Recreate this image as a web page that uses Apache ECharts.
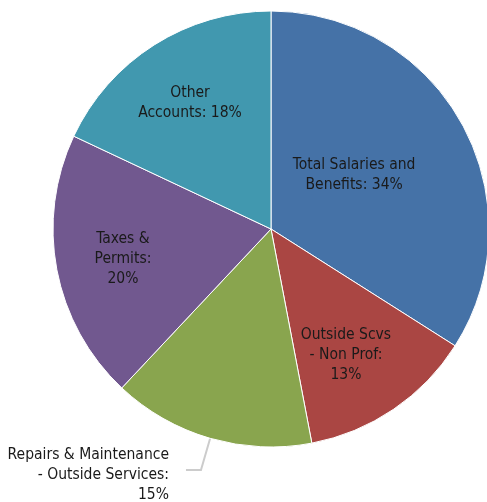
<!DOCTYPE html>
<html><head><meta charset="utf-8">
<script src="https://cdn.jsdelivr.net/npm/echarts@6/dist/echarts.min.js"></script>
<style>html,body{margin:0;padding:0;background:#fff}#c{width:487px;height:502px}</style>
</head><body><div id="c"></div>
<script>
const categories = ['Total Salaries and\nBenefits', 'Outside Scvs\n- Non Prof', 'Repairs & Maintenance\n- Outside Services', 'Taxes &\nPermits', 'Other\nAccounts'];
const values = [34, 13, 15, 20, 18];
const colors = ['#4572A7', '#AA4643', '#89A54E', '#71588F', '#4198AF'];
const pctSep = [' ', '\n', '\n', '\n', ' '];
const labelShift = [[-15, 0], [12, 33], [0, 5], [-38, 9], [-21, -31]];

const chart = echarts.init(document.getElementById('c'), null, {renderer: 'canvas'});
chart.setOption({
  animation: false,
  series: [{
    type: 'pie',
    center: [271, 229],
    radius: 218,
    startAngle: 90,
    clockwise: true,
    itemStyle: {borderColor: '#ffffff', borderWidth: 1},
    label: {
      show: true,
      position: 'inside',
      fontFamily: "'DejaVu Sans Condensed', 'DejaVu Sans'",
      fontSize: 15.5,
      lineHeight: 20,
      color: '#1a1a1a',
      align: 'center',
      overflow: 'none',
      formatter: p => p.name + ':' + pctSep[p.dataIndex] + p.value + '%'
    },
    labelLine: {show: false},
    labelLayout: p => ({dx: labelShift[p.dataIndex][0], dy: labelShift[p.dataIndex][1]}),
    data: categories.map((c, i) => {
      const d = {name: c, value: values[i], itemStyle: {color: colors[i]}};
      if (i === 2) {
        d.label = {position: 'outside', align: 'right', distanceToLabelLine: 17, overflow: 'none', edgeDistance: 0};
        d.labelLine = {show: true, length: 33, length2: 15, smooth: false, lineStyle: {color: '#cccccc', width: 2}};
      }
      return d;
    })
  }]
});
</script></body></html>
